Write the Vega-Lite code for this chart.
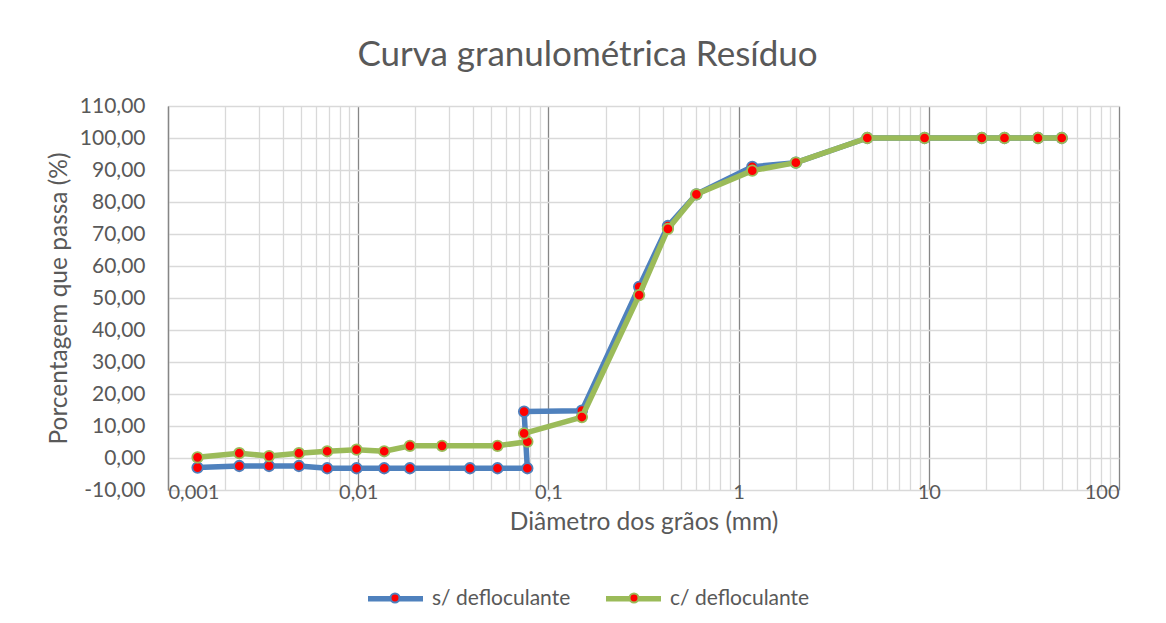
{
  "$schema": "https://vega.github.io/schema/vega-lite/v6.json",
  "width": 951,
  "height": 384,
  "autosize": "none",
  "padding": {"left": 168, "top": 106, "right": 47, "bottom": 133},
  "background": "white",
  "config": {
    "locale": {"number": {"decimal": ",", "thousands": ".", "grouping": [3], "currency": ["", ""], "minus": "-"}},
    "view": {"stroke": null},
    "font": "Lato",
    "axis": {"labelFont": "Lato", "titleFont": "Lato", "labelColor": "#595959", "titleColor": "#595959", "titleFontWeight": "normal"},
    "legend": {"padding": 0, "labelFont": "Lato", "labelFontSize": 21, "labelColor": "#595959"}
  },
  "title": {"text": "Curva granulométrica Resíduo", "fontSize": 35, "font": "Lato", "fontWeight": "normal", "color": "#595959", "anchor": "middle", "dx": -56, "offset": 22},
  "data": {"values": [
    {"s": "s/ defloculante", "i": 1, "d": 0.00143, "p": -3.0},
    {"s": "s/ defloculante", "i": 2, "d": 0.00237, "p": -2.5},
    {"s": "s/ defloculante", "i": 3, "d": 0.0034, "p": -2.5},
    {"s": "s/ defloculante", "i": 4, "d": 0.00488, "p": -2.5},
    {"s": "s/ defloculante", "i": 5, "d": 0.00687, "p": -3.2},
    {"s": "s/ defloculante", "i": 6, "d": 0.0098, "p": -3.2},
    {"s": "s/ defloculante", "i": 7, "d": 0.0137, "p": -3.2},
    {"s": "s/ defloculante", "i": 8, "d": 0.0187, "p": -3.2},
    {"s": "s/ defloculante", "i": 9, "d": 0.0387, "p": -3.2},
    {"s": "s/ defloculante", "i": 10, "d": 0.054, "p": -3.2},
    {"s": "s/ defloculante", "i": 11, "d": 0.0775, "p": -3.2},
    {"s": "s/ defloculante", "i": 12, "d": 0.0745, "p": 14.5},
    {"s": "s/ defloculante", "i": 13, "d": 0.15, "p": 14.8},
    {"s": "s/ defloculante", "i": 14, "d": 0.3, "p": 53.5},
    {"s": "s/ defloculante", "i": 15, "d": 0.425, "p": 72.5},
    {"s": "s/ defloculante", "i": 16, "d": 0.6, "p": 82.4},
    {"s": "s/ defloculante", "i": 17, "d": 1.18, "p": 91.0},
    {"s": "s/ defloculante", "i": 18, "d": 2.0, "p": 92.3},
    {"s": "s/ defloculante", "i": 19, "d": 4.75, "p": 100},
    {"s": "s/ defloculante", "i": 20, "d": 9.5, "p": 100},
    {"s": "s/ defloculante", "i": 21, "d": 19, "p": 100},
    {"s": "s/ defloculante", "i": 22, "d": 25, "p": 100},
    {"s": "s/ defloculante", "i": 23, "d": 37.5, "p": 100},
    {"s": "s/ defloculante", "i": 24, "d": 50, "p": 100},
    {"s": "c/ defloculante", "i": 1, "d": 0.00143, "p": 0.2},
    {"s": "c/ defloculante", "i": 2, "d": 0.00237, "p": 1.5},
    {"s": "c/ defloculante", "i": 3, "d": 0.0034, "p": 0.6},
    {"s": "c/ defloculante", "i": 4, "d": 0.00488, "p": 1.5},
    {"s": "c/ defloculante", "i": 5, "d": 0.00687, "p": 2.1},
    {"s": "c/ defloculante", "i": 6, "d": 0.0098, "p": 2.6},
    {"s": "c/ defloculante", "i": 7, "d": 0.0137, "p": 2.1},
    {"s": "c/ defloculante", "i": 8, "d": 0.0187, "p": 3.8},
    {"s": "c/ defloculante", "i": 9, "d": 0.0276, "p": 3.8},
    {"s": "c/ defloculante", "i": 10, "d": 0.054, "p": 3.8},
    {"s": "c/ defloculante", "i": 11, "d": 0.0775, "p": 5.1},
    {"s": "c/ defloculante", "i": 12, "d": 0.0745, "p": 7.7},
    {"s": "c/ defloculante", "i": 13, "d": 0.15, "p": 12.8},
    {"s": "c/ defloculante", "i": 14, "d": 0.3, "p": 50.9},
    {"s": "c/ defloculante", "i": 15, "d": 0.425, "p": 71.6},
    {"s": "c/ defloculante", "i": 16, "d": 0.6, "p": 82.4},
    {"s": "c/ defloculante", "i": 17, "d": 1.18, "p": 89.8},
    {"s": "c/ defloculante", "i": 18, "d": 2.0, "p": 92.3},
    {"s": "c/ defloculante", "i": 19, "d": 4.75, "p": 100},
    {"s": "c/ defloculante", "i": 20, "d": 9.5, "p": 100},
    {"s": "c/ defloculante", "i": 21, "d": 19, "p": 100},
    {"s": "c/ defloculante", "i": 22, "d": 25, "p": 100},
    {"s": "c/ defloculante", "i": 23, "d": 37.5, "p": 100},
    {"s": "c/ defloculante", "i": 24, "d": 50, "p": 100}
  ]},
  "layer": [
    {
      "transform": [{"filter": "datum.s === 's/ defloculante'"}],
      "mark": {"type": "line", "strokeWidth": 5.5, "strokeCap": "round", "strokeJoin": "round"},
      "encoding": {
        "x": {"field": "d", "type": "quantitative", "scale": {"type": "log", "domain": [0.001, 100]},
          "axis": {"orient": "top", "values": [0.002,0.003,0.004,0.005,0.006,0.007,0.008,0.009,0.02,0.03,0.04,0.05,0.06,0.07,0.08,0.09,0.2,0.3,0.4,0.5,0.6,0.7,0.8,0.9,2,3,4,5,6,7,8,9,20,30,40,50,60,70,80,90],
            "labels": false, "ticks": false, "domain": false, "title": null, "grid": true, "gridColor": "#D9D9D9", "gridWidth": 1.3}},
        "y": {"field": "p", "type": "quantitative", "scale": {"domain": [-10, 110], "nice": false},
          "axis": {"values": [-10,0,10,20,30,40,50,60,70,80,90,100,110], "format": ".2f", "grid": true, "gridColor": "#D9D9D9", "gridWidth": 1.3,
            "domain": true, "domainColor": "#868686", "domainWidth": 1.3, "ticks": false, "labelPadding": 23, "labelFontSize": 21,
            "title": "Porcentagem que passa (%)", "titleFontSize": 24.5, "titlePadding": 8}},
        "color": {"field": "s", "type": "nominal", "scale": {"domain": ["s/ defloculante", "c/ defloculante"], "range": ["#4F81BD", "#9BBB59"]},
          "legend": {"title": null, "orient": "none", "direction": "horizontal", "legendX": 197, "legendY": 462, "symbolType": "stroke", "symbolSize": 3025, "symbolStrokeWidth": 5.5, "labelOffset": 6, "columnPadding": 24}},
        "order": {"field": "i", "type": "quantitative"}
      }
    },
    {
      "transform": [{"filter": "datum.s === 's/ defloculante'"}],
      "mark": {"type": "point", "filled": true, "fill": "#FF0000", "size": 110, "strokeWidth": 1.8, "opacity": 1},
      "encoding": {
        "x": {"field": "d", "type": "quantitative", "scale": {"type": "log", "domain": [0.001, 100]},
          "axis": {"orient": "bottom", "values": [0.001, 0.01, 0.1, 1, 10, 100], "format": "~g", "grid": true, "gridColor": "#868686", "gridWidth": 1.3,
            "domain": false, "ticks": false, "labelFontSize": 20, "labelBaseline": "middle", "labelPadding": 2,
            "title": "Diâmetro dos grãos (mm)", "titleFontSize": 24.5, "titlePadding": 8}},
        "y": {"field": "p", "type": "quantitative", "axis": null},
        "stroke": {"field": "s", "type": "nominal", "sort": "descending", "scale": {"range": ["#4F81BD", "#9BBB59"]},
          "legend": {"title": null, "orient": "none", "direction": "horizontal", "legendX": 197, "legendY": 462, "symbolType": "M -0.155 0 A 0.155 0.155 0 1 0 0.155 0 A 0.155 0.155 0 1 0 -0.155 0 Z", "symbolSize": 3364, "symbolStrokeWidth": 2, "symbolFillColor": "#FF0000", "symbolOpacity": 1, "labelOffset": 6, "columnPadding": 173, "labelExpr": "''"}}
      }
    },
    {
      "transform": [{"filter": "datum.s === 'c/ defloculante'"}],
      "mark": {"type": "line", "strokeWidth": 5.5, "strokeCap": "round", "strokeJoin": "round"},
      "encoding": {
        "x": {"field": "d", "type": "quantitative", "axis": null},
        "y": {"field": "p", "type": "quantitative", "axis": null},
        "color": {"field": "s", "type": "nominal"},
        "order": {"field": "i", "type": "quantitative"}
      }
    },
    {
      "transform": [{"filter": "datum.s === 'c/ defloculante'"}],
      "mark": {"type": "point", "filled": true, "fill": "#FF0000", "size": 110, "strokeWidth": 1.8, "opacity": 1},
      "encoding": {
        "x": {"field": "d", "type": "quantitative", "axis": null},
        "y": {"field": "p", "type": "quantitative", "axis": null},
        "stroke": {"field": "s", "type": "nominal", "sort": "descending"}
      }
    }
  ],
  "resolve": {"axis": {"x": "independent", "y": "independent"}}
}
